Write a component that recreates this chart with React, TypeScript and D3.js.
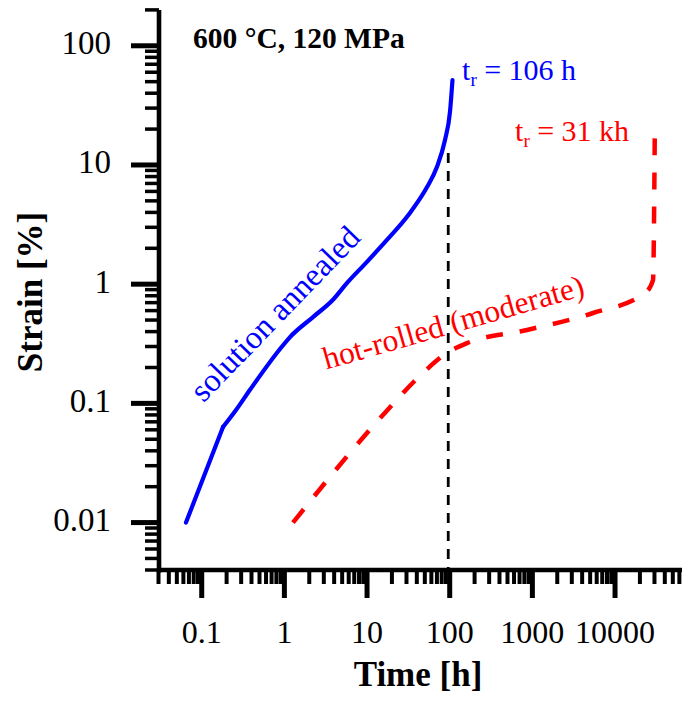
import React from "react";
import * as d3 from "d3";

// ---- data (time in h, strain in %) ----
const blueTime = [0.0645, 0.181, 0.26, 0.384, 0.885, 1.17, 2.22, 3.87, 5.7, 9.98, 17.4, 33, 53, 70, 87.7, 100.7, 108];
const blueStrain = [0.01, 0.0634, 0.088, 0.13, 0.286, 0.36, 0.53, 0.74, 1.02, 1.54, 2.35, 3.96, 6.5, 9.6, 16.2, 27.8, 51.6];

const redTime = [1.27, 16.4, 47.4, 92.7, 162, 861, 5420, 23000, 28800, 30300];
const redStrain = [0.01, 0.083, 0.18, 0.265, 0.32, 0.413, 0.573, 0.843, 1.08, 21];

const vlineTime = 96;
const vlineStrainTop = 12.6;

const xMajorTicks = [0.1, 1, 10, 100, 1000, 10000];
const xTickLabels = ["0.1", "1", "10", "100", "1000", "10000"];
const yMajorTicks = [0.01, 0.1, 1, 10, 100];
const yTickLabels = ["0.01", "0.1", "1", "10", "100"];

const xDomain = [0.03, 1e5];
const yDomain = [0.004, 200];

const title = "600 \u00B0C, 120 MPa";
const xTitle = "Time [h]";
const yTitle = "Strain [%]";
const blueLabel = "solution annealed";
const redLabel = "hot-rolled (moderate)";

// annotation anchors in data coordinates
const blueLabelAt = [0.105, 0.1];
const redLabelAt = [3.21, 0.192];
const blueTrAt = [141, 51.2];
const redTrAt = [617, 16.0];

const FONT = "'Liberation Serif', 'Times New Roman', serif";

function minorTicks(lo: number, hi: number, majors: number[]) {
  const out: number[] = [];
  for (let e = -4; e <= 5; e++) {
    for (let k = 1; k <= 9; k++) {
      const v = +(k * Math.pow(10, e)).toPrecision(6);
      if (v >= lo * 0.9999 && v <= hi * 1.0001 && !majors.some((m) => Math.abs(m - v) / m < 1e-6)) out.push(v);
    }
  }
  return out;
}

export default function App() {
  const W = 682;
  const H = 705;
  const x = d3.scaleLog().domain(xDomain).range([158.5, 697.7]);
  const y = d3.scaleLog().domain(yDomain).range([570, 9.9]);
  const axisX = 159;
  const axisY = 570;

  const xMinor = minorTicks(xDomain[0], xDomain[1], xMajorTicks);
  const yMinor = minorTicks(yDomain[0], yDomain[1], yMajorTicks);

  const smooth = d3
    .line<[number, number]>()
    .x((d) => x(d[0]))
    .y((d) => y(d[1]))
    .curve(d3.curveMonotoneX);
  const straight = d3
    .line<[number, number]>()
    .x((d) => x(d[0]))
    .y((d) => y(d[1]));

  const blueData = blueTime.map((t, i) => [t, blueStrain[i]] as [number, number]);
  const redData = redTime.map((t, i) => [t, redStrain[i]] as [number, number]);

  return (
    <svg
      width={W}
      height={H}
      style={{ position: "absolute", left: 0, top: 0, display: "block", overflow: "hidden" }}
      fontFamily={FONT}
    >
      <rect x={0} y={0} width={W} height={H} fill="#fff" />
      {/* curves */}
      <path d={straight(blueData.slice(0, 2)) || ""} fill="none" stroke="#0000ff" strokeWidth={4.2} strokeLinecap="round" />
      <path d={smooth(blueData.slice(1)) || ""} fill="none" stroke="#0000ff" strokeWidth={4.2} strokeLinejoin="round" strokeLinecap="round" />
      <path d={smooth(redData) || ""} fill="none" stroke="#ff0000" strokeWidth={4.5} strokeDasharray="17 17" />
      <line
        x1={x(vlineTime)}
        x2={x(vlineTime)}
        y1={y(vlineStrainTop)}
        y2={axisY}
        stroke="#000"
        strokeWidth={2.8}
        strokeDasharray="10 8"
      />

      {/* y axis */}
      <line x1={axisX} x2={axisX} y1={y(yDomain[1])} y2={axisY + 2.5} stroke="#000" strokeWidth={4.6} />
      {yMinor.map((v) => (
        <line key={"ym" + v} x1={axisX - 14} x2={axisX} y1={y(v)} y2={y(v)} stroke="#000" strokeWidth={3.5} />
      ))}
      {yMajorTicks.map((v) => (
        <line key={"yM" + v} x1={axisX - 28} x2={axisX} y1={y(v)} y2={y(v)} stroke="#000" strokeWidth={5} />
      ))}
      {yMajorTicks.map((v, i) => (
        <text key={"yl" + v} x={111} y={y(v) + 8.5} fontSize={33} textAnchor="end" fill="#000">
          {yTickLabels[i]}
        </text>
      ))}

      {/* x axis */}
      <line x1={axisX - 2} x2={W} y1={axisY} y2={axisY} stroke="#000" strokeWidth={4.6} />
      {xMinor.map((v) => (
        <line key={"xm" + v} x1={x(v)} x2={x(v)} y1={axisY} y2={axisY + 14} stroke="#000" strokeWidth={4} />
      ))}
      {xMajorTicks.map((v) => (
        <line key={"xM" + v} x1={x(v)} x2={x(v)} y1={axisY} y2={axisY + 28} stroke="#000" strokeWidth={5} />
      ))}
      {xMajorTicks.map((v, i) => (
        <text key={"xl" + v} x={x(v)} y={643} fontSize={32} textAnchor="middle" fill="#000">
          {xTickLabels[i]}
        </text>
      ))}

      {/* axis titles */}
      <text x={418} y={686} fontSize={35} fontWeight="bold" textAnchor="middle" fill="#000">
        {xTitle}
      </text>
      <text
        transform={`translate(42,292) rotate(-90)`}
        fontSize={35}
        fontWeight="bold"
        textAnchor="middle"
        fill="#000"
      >
        {yTitle}
      </text>

      {/* title */}
      <text x={193} y={48} fontSize={29.5} fontWeight="bold" fill="#000">
        {title}
      </text>

      {/* annotations */}
      <text
        transform={`translate(${x(blueLabelAt[0])},${y(blueLabelAt[1])}) rotate(-46)`}
        fontSize={32.5}
        fill="#0000ff"
      >
        {blueLabel}
      </text>
      <text
        transform={`translate(${x(redLabelAt[0])},${y(redLabelAt[1])}) rotate(-16)`}
        fontSize={31.5}
        fill="#ff0000"
      >
        {redLabel}
      </text>
      <text x={x(blueTrAt[0])} y={y(blueTrAt[1])} fontSize={30} fill="#0000ff">
        t
        <tspan fontSize={19} dy={6}>r</tspan>
        <tspan dy={-6}>{" = 106 h"}</tspan>
      </text>
      <text x={x(redTrAt[0])} y={y(redTrAt[1])} fontSize={30} fill="#ff0000">
        t
        <tspan fontSize={19} dy={6}>r</tspan>
        <tspan dy={-6}>{" = 31 kh"}</tspan>
      </text>
    </svg>
  );
}
